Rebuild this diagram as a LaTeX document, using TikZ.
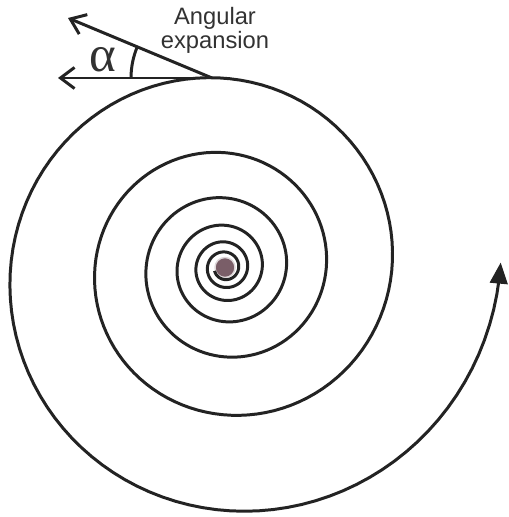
\documentclass[tikz,border=0pt]{standalone}
\usepackage{fontspec}
\setsansfont{Liberation Sans}
\newfontfamily\greekserif{Liberation Serif}
\usetikzlibrary{arrows.meta, angles}
\definecolor{spiralink}{RGB}{35,35,35}
\definecolor{textgray}{RGB}{50,50,50}
\definecolor{coremauve}{RGB}{122,94,104}

\begin{document}
\begin{tikzpicture}[
    x=0.02cm, y=0.02cm,
    font=\sffamily,
    % Styles for the spiral sketch
    curve/.style={draw=spiralink, line width=1.7pt},
    pointer/.style={curve, -{Straight Barb[length=8pt, width=12pt]}},
    outward/.style={curve, -{Triangle[length=12pt, width=10pt]}},
    caption/.style={font=\sffamily\fontsize{13.5}{12.5}\selectfont, text=textgray, align=center},
    anglelabel/.style={font=\greekserif\fontsize{29}{29}\selectfont, text=textgray},
    core/.style={circle, fill=coremauve, draw=white!75!coremauve, line width=0.8pt, minimum size=0.4cm, inner sep=0pt}
]
\useasboundingbox (0,0) rectangle (509,517);

% ----------------------------------------------------
% Spiral
% ----------------------------------------------------
\coordinate (ctr) at (225,249.5);
\node[core] (dot) at (ctr) {};

\draw[outward, shift={(ctr)}, domain=-5.45:1.006, samples=700, variable=\t]
    plot ({\t*360}:{167*exp(0.5*\t)});

% ----------------------------------------------------
% Angular expansion at the top of the outer turn
% ----------------------------------------------------
\coordinate (tan) at (212,439);
\coordinate (flat) at (58,439);
\coordinate (slant) at (68,499);

\draw[pointer] (tan) -- (flat);
\draw[pointer] (tan) -- (slant);
\pic[curve, angle radius=1.62cm] {angle=slant--tan--flat};

\node[anglelabel] (alpha) at (103,457) {α};
\node[caption] (title) at (215,487) {Angular\\expansion};

\end{tikzpicture}
\end{document}
